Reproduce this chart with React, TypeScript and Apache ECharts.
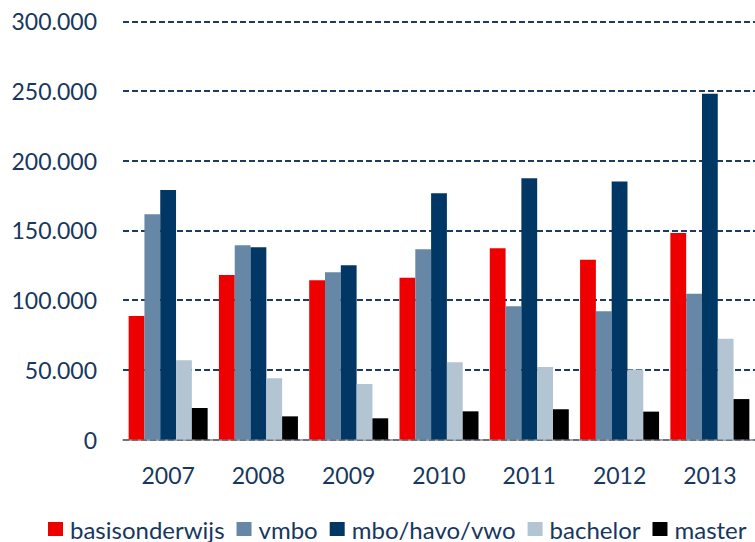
import React, { useEffect, useRef } from "react";
import * as echarts from "echarts";

const years = ["2007", "2008", "2009", "2010", "2011", "2012", "2013"];
const basisonderwijs = [88600, 118000, 114200, 116100, 137200, 129000, 148100];
const vmbo = [161500, 139300, 119900, 136400, 95500, 92000, 104600];
const mboHavoVwo = [179000, 137900, 125000, 176600, 187400, 185000, 248000];
const bachelor = [56800, 43900, 39800, 55400, 52000, 50300, 72300];
const master = [22600, 16600, 15200, 20200, 21700, 20000, 29000];

const seriesNames = ["basisonderwijs", "vmbo", "mbo/havo/vwo", "bachelor", "master"];
const seriesData = [basisonderwijs, vmbo, mboHavoVwo, bachelor, master];
const colors = ["#EE0000", "#6688A6", "#003764", "#B3C4D3", "#000000"];

const textColor = "#17375E";
const font = "Lato";

function fmt(v: number): string {
  if (v === 0) return "0";
  const s = String(Math.round(v));
  return s.replace(/\B(?=(\d{3})+(?!\d))/g, ".");
}

export default function App() {
  const ref = useRef<HTMLDivElement>(null);
  useEffect(() => {
    if (!ref.current) return;
    const chart = echarts.init(ref.current, undefined, { renderer: "svg" });
    chart.setOption({
      animation: false,
      color: colors,
      grid: { left: 123, top: 21.3, bottom: 102.5, width: 635, containLabel: false },
      legend: {
        left: 43,
        top: 512,
        itemWidth: 15,
        itemHeight: 14,
        itemGap: 12,
        icon: "rect",
        textStyle: { color: textColor, fontFamily: font, fontSize: 24, padding: [0, 0, 0, 2] },
        data: seriesNames,
      },
      xAxis: {
        type: "category",
        data: years,
        axisLine: { show: true, lineStyle: { color: "#888888", width: 1.5 } },
        axisTick: { show: false },
        axisLabel: { color: textColor, fontFamily: font, fontSize: 23, margin: 24 },
      },
      yAxis: {
        type: "value",
        min: 0,
        max: 300000,
        interval: 50000,
        axisLine: { show: false },
        axisTick: { show: false },
        axisLabel: {
          color: textColor,
          fontFamily: font,
          fontSize: 23,
          margin: 26,
          formatter: (v: number) => fmt(v),
        },
        splitLine: {
          show: true,
          lineStyle: { color: "#1F3B60", width: 2, type: [6, 3] },
        },
      },
      series: seriesNames.map((name, i) => ({
        name,
        type: "bar",
        data: seriesData[i],
        barWidth: 15.8,
        barGap: "0%",
        itemStyle: { color: colors[i] },
      })),
    });
    return () => chart.dispose();
  }, []);
  return <div ref={ref} style={{ width: 755, height: 542, position: "absolute", left: 0, top: 0 }} />;
}
